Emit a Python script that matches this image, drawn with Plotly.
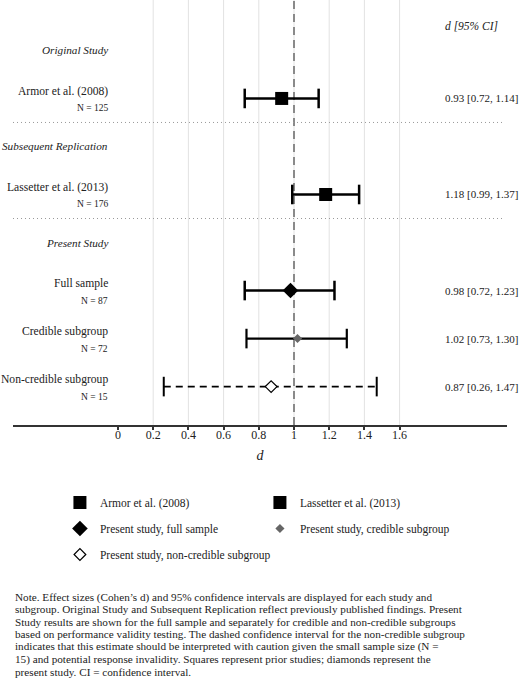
import plotly.graph_objects as go

# ---------------- data ----------------
studies = ["Armor et al. (2008)", "Lassetter et al. (2013)", "Full sample",
           "Credible subgroup", "Non-credible subgroup"]
n_labels = ["N = 125", "N = 176", "N = 87", "N = 72", "N = 15"]
d_values = [0.93, 1.18, 0.98, 1.02, 0.87]
ci_low = [0.72, 0.99, 0.72, 0.73, 0.26]
ci_high = [1.14, 1.37, 1.23, 1.30, 1.47]
ci_text = ["0.93 [0.72, 1.14]", "1.18 [0.99, 1.37]", "0.98 [0.72, 1.23]",
           "1.02 [0.73, 1.30]", "0.87 [0.26, 1.47]"]
legend_names = ["Armor et al. (2008)", "Lassetter et al. (2013)",
                "Present study, full sample", "Present study, credible subgroup",
                "Present study, non-credible subgroup"]
row_pos = [6, 4, 2, 1, 0]
sections = ["Original Study", "Subsequent Replication", "Present Study"]
section_pos = [7, 5, 3]
separator_pos = [5.5, 3.5]
tick_vals = [0, 0.2, 0.4, 0.6, 0.8, 1.0, 1.2, 1.4, 1.6]
tick_text = ["0", "0.2", "0.4", "0.6", "0.8", "1", "1.2", "1.4", "1.6"]
grid_vals = [0.2, 0.4, 0.6, 0.8, 1.0, 1.2, 1.4, 1.6]
ref_line = 1.0

note_lines = [
    "Note. Effect sizes (Cohen’s d) and 95% confidence intervals are displayed for each study and",
    "subgroup. Original Study and Subsequent Replication reflect previously published findings. Present",
    "Study results are shown for the full sample and separately for credible and non-credible subgroups",
    "based on performance validity testing. The dashed confidence interval for the non-credible subgroup",
    "indicates that this estimate should be interpreted with caution given the small sample size (N =",
    "15) and potential response invalidity. Squares represent prior studies; diamonds represent the",
    "present study. CI = confidence interval.",
]

# ---------------- styles ----------------
FONT = "Liberation Serif"
TXT = "#222222"
symbols = ["square", "square", "diamond", "diamond", "diamond"]
sizes = [13, 13, 12, 7, 9]
fill = ["black", "black", "black", "#666666", "white"]
edge = ["black", "black", "black", "#666666", "black"]
edge_w = [0, 0, 0, 0, 1.2]
legend_ids = ["legend", "legend", "legend2", "legend2", "legend3"]
line_dash = ["solid", "solid", "solid", "solid", "7px,5px"]
line_w = [2.5, 2.5, 2.5, 2.2, 1.6]
cap_w = [2.5, 2.5, 2.5, 2.2, 2.0]

fig = go.Figure()

# CI lines and caps
for i in range(len(studies)):
    fig.add_trace(go.Scatter(
        x=[ci_low[i], ci_high[i]], y=[row_pos[i], row_pos[i]], mode="lines",
        line=dict(color="black", width=line_w[i], dash=line_dash[i]),
        showlegend=False, hoverinfo="skip"))
    fig.add_trace(go.Scatter(
        x=[ci_low[i], ci_high[i]], y=[row_pos[i], row_pos[i]], mode="markers",
        marker=dict(symbol="line-ns", size=14,
                    line=dict(color="black", width=cap_w[i])),
        showlegend=False, hoverinfo="skip"))

# point estimates (legend entries)
for i in range(len(studies)):
    fig.add_trace(go.Scatter(
        x=[d_values[i]], y=[row_pos[i]], mode="markers", name=legend_names[i],
        legend=legend_ids[i],
        marker=dict(symbol=symbols[i], size=sizes[i], color=fill[i],
                    line=dict(color=edge[i], width=edge_w[i]))))

shapes = []
for g in grid_vals:
    shapes.append(dict(type="line", xref="x", yref="paper", x0=g, x1=g, y0=0, y1=1,
                       line=dict(color="#e2e2e2", width=1), layer="below"))
shapes.append(dict(type="line", xref="x", yref="paper", x0=ref_line, x1=ref_line, y0=0, y1=1,
                   line=dict(color="#8a8a8a", width=2, dash="8px,5px"), layer="below"))
for s in separator_pos:
    shapes.append(dict(type="line", xref="paper", yref="y", x0=0, x1=0.99, y0=s, y1=s,
                       line=dict(color="#999999", width=1, dash="1px,3px"), layer="below"))

ann = []
LABEL_X = -0.045
CI_X = 1.847
for i in range(len(studies)):
    ann.append(dict(x=LABEL_X, y=row_pos[i], xref="x", yref="y", text=studies[i],
                    xanchor="right", yanchor="middle", yshift=7, showarrow=False,
                    font=dict(family=FONT, size=11.6, color=TXT)))
    ann.append(dict(x=LABEL_X, y=row_pos[i], xref="x", yref="y", text=n_labels[i],
                    xanchor="right", yanchor="middle", yshift=-10, showarrow=False,
                    font=dict(family=FONT, size=9.5, color=TXT)))
    ann.append(dict(x=CI_X, y=row_pos[i], xref="x", yref="y", text=ci_text[i],
                    xanchor="left", yanchor="middle", showarrow=False,
                    font=dict(family=FONT, size=11, color=TXT)))
for s, p in zip(sections, section_pos):
    ann.append(dict(x=LABEL_X, y=p, xref="x", yref="y", text="<i>" + s + "</i>",
                    xanchor="right", yanchor="middle", showarrow=False,
                    font=dict(family=FONT, size=11.2, color=TXT)))
ann.append(dict(x=CI_X, y=7.5, xref="x", yref="y", text="<i>d [95% CI]</i>",
                xanchor="left", yanchor="middle", showarrow=False,
                font=dict(family=FONT, size=11.5, color=TXT)))

PLOT_H = 425.0
for k, line in enumerate(note_lines):
    py = 597 + k * 12.45
    ann.append(dict(x=0, y=(PLOT_H - py) / PLOT_H, xref="paper", yref="paper", text=line,
                    xanchor="left", yanchor="middle", showarrow=False,
                    font=dict(family=FONT, size=11.2, color=TXT)))

def leg(top_px, ew):
    return dict(orientation="h", x=0.095, y=(PLOT_H - top_px) / PLOT_H, xanchor="left",
                yanchor="top", entrywidth=ew, entrywidthmode="pixels",
                font=dict(family=FONT, size=11.5, color=TXT), bgcolor="rgba(0,0,0,0)",
                traceorder="normal")

fig.update_layout(
    width=520, height=678,
    margin=dict(l=13, r=13, t=0, b=253),
    plot_bgcolor="white", paper_bgcolor="white",
    font=dict(family=FONT, color=TXT),
    xaxis=dict(range=[-0.5966, 2.2102], tickvals=tick_vals, ticktext=tick_text,
               showgrid=False, zeroline=False, showline=True, linecolor="#333333",
               linewidth=1.5, ticks="outside", ticklen=3, tickwidth=1.5, tickcolor="#333333",
               ticklabelstandoff=-5,
               tickfont=dict(family=FONT, size=12, color=TXT),
               title=dict(text="<i>d</i>", font=dict(family=FONT, size=14, color=TXT), standoff=9),
               fixedrange=True),
    yaxis=dict(range=[-0.8, 8.05], showgrid=False, zeroline=False, showticklabels=False,
               fixedrange=True),
    showlegend=True,
    legend=leg(488, 155), legend2=leg(514, 155), legend3=leg(540, 0),
    shapes=shapes, annotations=ann,
)

fig.write_html("out.html")
